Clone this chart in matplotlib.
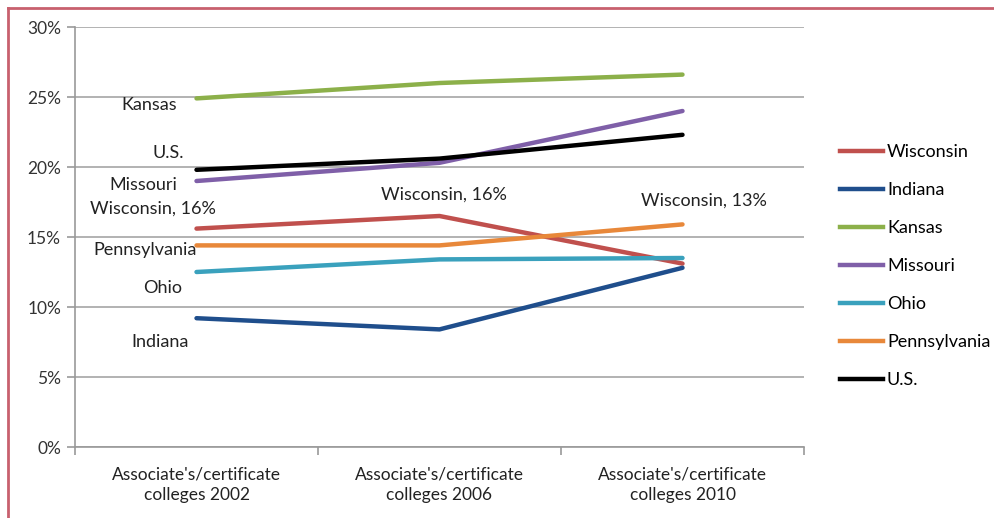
import matplotlib.pyplot as plt
from matplotlib.lines import Line2D

plt.rcParams['font.family'] = ['Lato', 'DejaVu Sans']

categories = ["Associate's/certificate\ncolleges 2002",
              "Associate's/certificate\ncolleges 2006",
              "Associate's/certificate\ncolleges 2010"]
states = ['Wisconsin', 'Indiana', 'Kansas', 'Missouri', 'Ohio', 'Pennsylvania', 'U.S.']
wisconsin = [15.6, 16.5, 13.1]
indiana = [9.2, 8.4, 12.8]
kansas = [24.9, 26.0, 26.6]
missouri = [19.0, 20.3, 24.0]
ohio = [12.5, 13.4, 13.5]
pennsylvania = [14.4, 14.4, 15.9]
us = [19.8, 20.6, 22.3]
colors = ['#c0504d', '#1f4e8c', '#8cb04a', '#7f5fa8', '#3aa1bd', '#e8883a', '#000000']
series = [wisconsin, indiana, kansas, missouri, ohio, pennsylvania, us]

fig = plt.figure(figsize=(9.94, 5.18), dpi=100)
ax = fig.add_axes([75 / 994, 1 - 447 / 518, (804 - 75) / 994, (447 - 27) / 518])

x = [0, 1, 2]
# draw order so black US is on top
for i in [0, 1, 2, 4, 5, 3, 6]:
    ax.plot(x, series[i], color=colors[i], lw=3.2, solid_capstyle='round', zorder=3)

ax.set_xlim(-0.5, 2.5)
ax.set_ylim(0, 30)
ax.set_yticks(range(0, 31, 5))
ax.set_yticklabels([f'{v}%' for v in range(0, 31, 5)], fontsize=12.5, color='#333333')
ax.set_xticks([-0.5, 0.5, 1.5, 2.5], minor=False)
ax.set_xticklabels([])
ax.set_xticks(x, minor=True)
ax.set_xticklabels(categories, minor=True, fontsize=12.5, color='#222222', linespacing=1.35)
ax.tick_params(axis='x', which='minor', length=0, pad=14)
ax.tick_params(axis='x', which='major', length=6, color='#999999', width=1.2, direction='out')
ax.tick_params(axis='y', length=6, color='#999999', width=1.2, direction='out', pad=4)
ax.grid(axis='y', color='#a6a6a6', lw=1.2, zorder=1)
for s in ['top', 'right']:
    ax.spines[s].set_visible(False)
ax.spines['left'].set_color('#999999')
ax.spines['bottom'].set_color('#999999')
ax.spines['left'].set_linewidth(1.2)
ax.spines['bottom'].set_linewidth(1.2)

# data labels
lab = dict(fontsize=13, color='#222222')
ax.text(-0.08, kansas[0] - 0.5, 'Kansas', ha='right', va='center', **lab)
ax.text(-0.05, us[0] + 1.2, 'U.S.', ha='right', va='center', **lab)
ax.text(-0.08, missouri[0] - 0.3, 'Missouri', ha='right', va='center', **lab)
ax.text(-0.18, wisconsin[0] + 1.45, 'Wisconsin, 16%', ha='center', va='center', **lab)
ax.text(0.0, pennsylvania[0] - 0.3, 'Pennsylvania', ha='right', va='center', **lab)
ax.text(-0.14, ohio[0] - 1.15, 'Ohio', ha='center', va='center', **lab)
ax.text(-0.15, indiana[0] - 1.7, 'Indiana', ha='center', va='center', **lab)
ax.text(1.02, wisconsin[1] + 1.5, 'Wisconsin, 16%', ha='center', va='center', **lab)
ax.text(2.09, wisconsin[2] + 4.5, 'Wisconsin, 13%', ha='center', va='center', **lab)

handles = [Line2D([0], [0], color=c, lw=3.2) for c in colors]
fig.legend(handles, states, loc='center left', bbox_to_anchor=(831 / 994, 1 - 266 / 518),
           frameon=False, fontsize=13, handlelength=2.4, handletextpad=0.2,
           labelspacing=1.22, borderpad=0)

# outer border lines (left and top)
fig.add_artist(Line2D([8 / 994, 8 / 994], [0, 1 - 8 / 518], color='#c8606e', lw=2))
fig.add_artist(Line2D([8 / 994, 1], [1 - 8 / 518, 1 - 8 / 518], color='#c8606e', lw=2))

fig.savefig('out.png', dpi=100)
